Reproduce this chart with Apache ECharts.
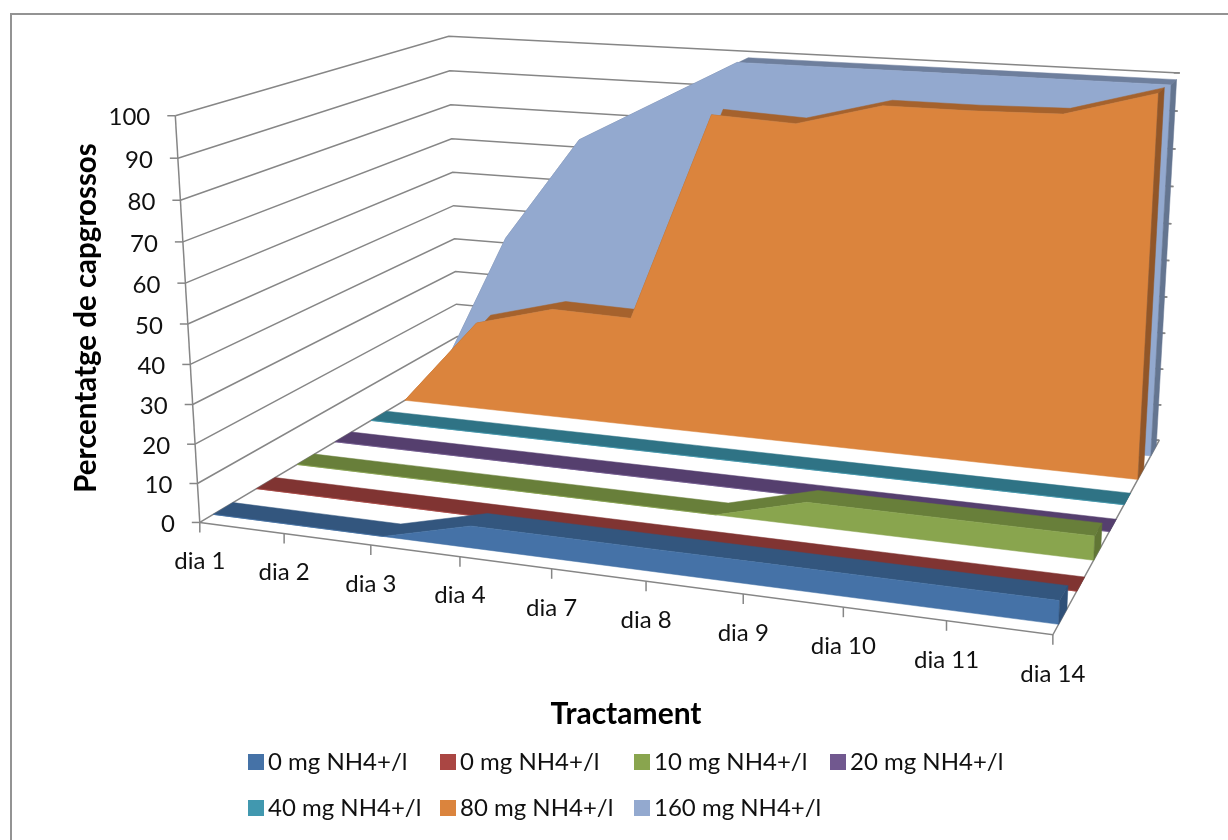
<!DOCTYPE html>
<html>
<head>
<meta charset="utf-8">
<style>
  html, body { margin: 0; padding: 0; background: #fff; }
  #chart { width: 1228px; height: 840px; }
</style>
<script src="https://cdn.jsdelivr.net/npm/echarts@6/dist/echarts.min.js"></script>
</head>
<body>
<div id="chart"></div>
<script>
const categories = ['dia 1', 'dia 2', 'dia 3', 'dia 4', 'dia 7', 'dia 8', 'dia 9', 'dia 10', 'dia 11', 'dia 14'];
const yTicks = [0, 10, 20, 30, 40, 50, 60, 70, 80, 90, 100];

const seriesNames = ['0 mg NH4+/l', '0 mg NH4+/l', '10 mg NH4+/l', '20 mg NH4+/l', '40 mg NH4+/l', '80 mg NH4+/l', '160 mg NH4+/l'];
const values0a = [0, 0, 0, 5.5, 5.5, 5.5, 5.5, 5.5, 5.5, 5.5];
const values0b = [0, 0, 0, 0, 0, 0, 0, 0, 0, 0];
const values10 = [0, 0, 0, 0, 0, 0, 6, 6, 6, 6];
const values20 = [0, 0, 0, 0, 0, 0, 0, 0, 0, 0];
const values40 = [0, 0, 0, 0, 0, 0, 0, 0, 0, 0];
const values80 = [0, 25, 31, 30.5, 88, 87, 93, 93, 93.5, 100];
const values160 = [0, 45, 75, 87, 99, 99, 99, 99, 99, 99];
const allValues = [values0a, values0b, values10, values20, values40, values80, values160];

const frontColors = ['#4572a7', '#aa4643', '#89a54e', '#71588f', '#4198af', '#db843d', '#93a9cf'];
const topColors = ['#33567e', '#803432', '#687f3a', '#553f6e', '#2f7385', '#a5622d', '#6e7f9d'];
const sideColors = ['#2f5078', '#803432', '#617635', '#553f6e', '#2f7385', '#915628', '#647590'];

const FONT = 'Lato, "Noto Sans", sans-serif';
const LINE = '#868686';
const BAND_START = 0.3; // where a series band starts inside its depth slot
const BAND_END = 0.75;

// camera is fitted on the corners of the box seen in the picture
// [x 0..1, value 0..1, depth 0..1] -> [screen x, screen y]
const cameraAnchors = [
  [[0, 0, 0], [199, 522]],
  [[1, 0, 0], [1053, 635]],
  [[1, 0, 1], [1159, 440]],
  [[0, 0, 1], [459, 369]],
  [[0, 1, 0], [176, 116]],
  [[0, 1, 1], [448, 36]],
  [[1, 1, 1], [1180, 73]],
];

function solveLinear(m, b) {
  const n = b.length;
  for (let i = 0; i < n; i++) {
    let best = i;
    for (let r = i + 1; r < n; r++) if (Math.abs(m[r][i]) > Math.abs(m[best][i])) best = r;
    [m[i], m[best]] = [m[best], m[i]];
    [b[i], b[best]] = [b[best], b[i]];
    for (let r = i + 1; r < n; r++) {
      const f = m[r][i] / m[i][i];
      for (let c = i; c < n; c++) m[r][c] -= f * m[i][c];
      b[r] -= f * b[i];
    }
  }
  const out = new Array(n);
  for (let i = n - 1; i >= 0; i--) {
    let s = b[i];
    for (let c = i + 1; c < n; c++) s -= m[i][c] * out[c];
    out[i] = s / m[i][i];
  }
  return out;
}

function fitCamera(anchors) {
  const rows = [];
  const rhs = [];
  anchors.forEach(([[u, v, w], [sx, sy]]) => {
    const x = sx / 1000;
    const y = sy / 1000;
    rows.push([u, v, w, 1, 0, 0, 0, 0, -x * u, -x * v, -x * w]);
    rhs.push(x);
    rows.push([0, 0, 0, 0, u, v, w, 1, -y * u, -y * v, -y * w]);
    rhs.push(y);
  });
  const ata = [];
  const atb = [];
  for (let i = 0; i < 11; i++) {
    ata.push(new Array(11).fill(0));
    atb.push(0);
    rows.forEach((r, k) => {
      for (let j = 0; j < 11; j++) ata[i][j] += r[i] * r[j];
      atb[i] += r[i] * rhs[k];
    });
  }
  return solveLinear(ata, atb);
}

const cam = fitCamera(cameraAnchors);

function project(u, v, w) {
  const d = cam[8] * u + cam[9] * v + cam[10] * w + 1;
  return [
    1000 * (cam[0] * u + cam[1] * v + cam[2] * w + cam[3]) / d,
    1000 * (cam[4] * u + cam[5] * v + cam[6] * w + cam[7]) / d,
  ];
}

// the hidden cartesian grid gives the scales, the camera turns them into 3D
function toScreen(api, params, category, value, depth) {
  const g = params.coordSys;
  const p = api.coord([category, value]);
  return project((p[0] - g.x) / g.width, (g.y + g.height - p[1]) / g.height, depth);
}

function poly(points, fill) {
  return {
    type: 'polygon',
    shape: { points },
    style: { fill, stroke: fill, lineWidth: 0.5 },
    silent: true,
  };
}

function segment(points, width) {
  return {
    type: 'polyline',
    shape: { points },
    style: { fill: null, stroke: LINE, lineWidth: width || 1.5 },
    silent: true,
  };
}

function label(text, x, y, align) {
  return {
    type: 'text',
    x,
    y,
    style: { text, fill: '#111', font: '24px ' + FONT, align, verticalAlign: 'middle' },
    silent: true,
  };
}

function renderArea(seriesIndex) {
  return function (params, api) {
    const last = categories.length - 1;
    if (params.dataIndex !== last) return null;
    const z0 = (seriesIndex + BAND_START) / seriesNames.length;
    const z1 = (seriesIndex + BAND_END) / seriesNames.length;
    const at = (i, z) => toScreen(api, params, i, api.value(1, i), z);
    const frontEdge = [];
    const backEdge = [];
    for (let i = 0; i <= last; i++) {
      frontEdge.push(at(i, z0));
      backEdge.unshift(at(i, z1));
    }
    return {
      type: 'group',
      children: [
        poly(frontEdge.concat(backEdge), topColors[seriesIndex]),
        poly(frontEdge.concat([toScreen(api, params, last, 0, z0), toScreen(api, params, 0, 0, z0)]), frontColors[seriesIndex]),
        poly([
          at(last, z0), at(last, z1),
          toScreen(api, params, last, 0, z1), toScreen(api, params, last, 0, z0),
        ], sideColors[seriesIndex]),
      ],
    };
  };
}

function renderGridLine(params, api) {
  const value = api.value(1);
  const last = categories.length - 1;
  const a = toScreen(api, params, 0, value, 0);
  const b = toScreen(api, params, 0, value, 1);
  const c = toScreen(api, params, last, value, 1);
  return {
    type: 'group',
    children: [
      segment([a, b, c]),
      segment([[a[0] - 8, a[1]], a]),
      segment([c, [c[0] - 6, c[1]]]),
      label(String(value), a[0] - 25, a[1] + 2, 'right'),
    ],
  };
}

function renderCategoryAxis(params, api) {
  const i = api.value(0);
  const last = categories.length - 1;
  const p = toScreen(api, params, i, 0, 0);
  const children = [
    segment([p, [p[0], p[1] + 10]]),
    label(categories[i], p[0], p[1] + 39, 'center'),
  ];
  if (i === 0) {
    children.push(
      segment([p, toScreen(api, params, last, 0, 0), toScreen(api, params, last, 0, 1)]),
      segment([p, toScreen(api, params, 0, 100, 0)]),
    );
  }
  return { type: 'group', children };
}

// legend is one component per entry: two series share a name and the columns line up
const legendSpots = [[248, 762], [440, 762], [634, 762], [830, 762], [248, 808], [440, 808], [634, 808]];

const chart = echarts.init(document.getElementById('chart'));

chart.setOption({
  animation: false,
  backgroundColor: '#ffffff',
  grid: { left: 200, right: 200, top: 100, bottom: 200 },
  xAxis: { type: 'category', data: categories, boundaryGap: false, show: false },
  yAxis: { type: 'value', min: 0, max: 100, interval: 10, show: false },
  legend: seriesNames.map((name, i) => ({
    data: [name],
    left: legendSpots[i][0],
    top: legendSpots[i][1] - 12,
    padding: 0,
    icon: 'rect',
    itemWidth: 16,
    itemHeight: 16,
    itemGap: 4,
    selectedMode: false,
    itemStyle: { color: frontColors[i], borderWidth: 0 },
    textStyle: { fontFamily: FONT, fontSize: 24, color: '#111', padding: [0, 0, 0, -1] },
  })),
  graphic: [
    {
      type: 'rect',
      shape: { x: 11, y: 14, width: 1240, height: 860 },
      style: { fill: null, stroke: '#939393', lineWidth: 2 },
      silent: true,
      z: -10,
    },
    {
      type: 'text',
      x: 86,
      y: 318,
      rotation: Math.PI / 2,
      style: { text: 'Percentatge de capgrossos', fill: '#000', font: 'bold 29.5px ' + FONT, align: 'center', verticalAlign: 'middle' },
      silent: true,
    },
    {
      type: 'text',
      x: 626,
      y: 714,
      style: { text: 'Tractament', fill: '#000', font: 'bold 30px ' + FONT, align: 'center', verticalAlign: 'middle' },
      silent: true,
    },
  ],
  series: [
    {
      type: 'custom',
      name: 'gridlines',
      coordinateSystem: 'cartesian2d',
      clip: false,
      silent: true,
      data: yTicks.map((t) => [0, t]),
      renderItem: renderGridLine,
    },
    {
      type: 'custom',
      name: 'category axis',
      coordinateSystem: 'cartesian2d',
      clip: false,
      silent: true,
      data: categories.map((c, i) => [i, 0]),
      renderItem: renderCategoryAxis,
    },
    // back to front so nearer bands paint over farther ones
    ...seriesNames.map((name, i) => i).reverse().map((i) => ({
      type: 'custom',
      name: seriesNames[i],
      coordinateSystem: 'cartesian2d',
      clip: false,
      silent: true,
      data: allValues[i].map((v, j) => [j, v]),
      renderItem: renderArea(i),
    })),
  ],
});
</script>
</body>
</html>
